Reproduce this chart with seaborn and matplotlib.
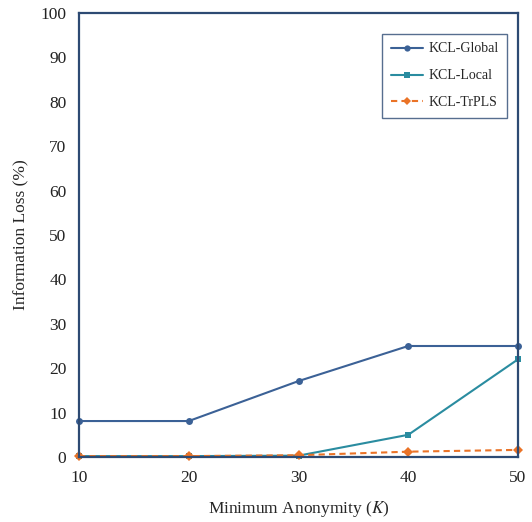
import matplotlib
matplotlib.use("Agg")
import matplotlib.pyplot as plt
import seaborn as sns
import pandas as pd

# data
k_values = [10, 20, 30, 40, 50]
kcl_global = [8.1, 8.1, 17.1, 25.0, 25.0]
kcl_local = [0.2, 0.2, 0.3, 5.0, 22.0]
kcl_trpls = [0.2, 0.2, 0.4, 1.2, 1.6]
y_ticks = list(range(0, 101, 10))

sns.set_style("white")
plt.rcParams["font.family"] = ["Liberation Serif", "DejaVu Serif"]
plt.rcParams["mathtext.fontset"] = "stix"

df = pd.DataFrame({
    "K": k_values * 3,
    "loss": kcl_global + kcl_local + kcl_trpls,
    "method": ["KCL-Global"] * 5 + ["KCL-Local"] * 5 + ["KCL-TrPLS"] * 5,
})

colors = {"KCL-Global": "#3b6196", "KCL-Local": "#2a8ca0", "KCL-TrPLS": "#ea7327"}
markers = {"KCL-Global": "o", "KCL-Local": "s", "KCL-TrPLS": "D"}
styles = {"KCL-Global": "", "KCL-Local": "", "KCL-TrPLS": (3, 2)}

fig = plt.figure(figsize=(5.32, 5.22), dpi=100)
ax = fig.add_axes([79 / 532, 1 - 457 / 522, 439 / 532, 444 / 522])
sns.lineplot(data=df, x="K", y="loss", hue="method", style="method",
             palette=colors, markers=markers, dashes=styles,
             markersize=5, linewidth=1.5, markeredgewidth=0, ax=ax, clip_on=False)

ax.set_xlim(10, 50)
ax.set_ylim(0, 100)
ax.set_xticks(k_values)
ax.set_yticks(y_ticks)
ax.tick_params(length=0, labelsize=12.5, colors="#222222", pad=9)
for s in ax.spines.values():
    s.set_color("#2d4a73")
    s.set_linewidth(1.6)

ax.set_xlabel("Minimum Anonymity ($K$)", fontsize=12.5, labelpad=10)
ax.set_ylabel("Information Loss (%)", fontsize=12.5, labelpad=8)

leg = ax.legend(loc="upper right", fontsize=10, frameon=True, fancybox=False,
                borderpad=0.6, labelspacing=1.0, handlelength=2.3,
                handletextpad=0.4, markerscale=0.9, bbox_to_anchor=(0.99, 0.968))
leg.get_frame().set_edgecolor("#2d4a73")
leg.get_frame().set_linewidth(1.0)

fig.savefig("out.png", dpi=100)
